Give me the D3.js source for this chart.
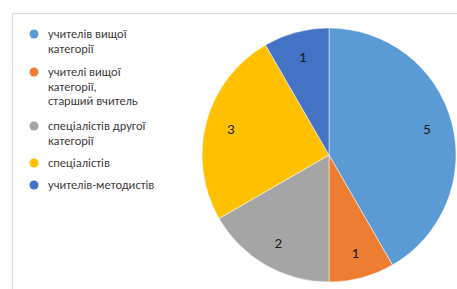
<!DOCTYPE html>
<html>
<head>
<meta charset="utf-8">
<script src="https://cdn.jsdelivr.net/npm/d3@7"></script>
<style>
  body { margin: 0; background: #fff; }
  svg { display: block; font-family: Calibri, Carlito, "Liberation Sans", "Open Sans", sans-serif; }
</style>
</head>
<body>
<script>
var categories = [
  ["учителів вищої", "категорії"],
  ["учителі вищої", "категорії,", "старший вчитель"],
  ["спеціалістів другої", "категорії"],
  ["спеціалістів"],
  ["учителів-методистів"]
];
var values = [5, 1, 2, 3, 1];
var colors = ["#5b9bd5", "#ed7d31", "#a5a5a5", "#ffc000", "#4472c4"];

var width = 457, height = 289,
    cx = 329, cy = 155, radius = 127;

var svg = d3.select("body").append("svg")
    .attr("width", width)
    .attr("height", height);

// chart area frame (only top and left edges are visible in the crop)
svg.append("rect")
    .attr("x", 12.5).attr("y", 13.5)
    .attr("width", width).attr("height", height)
    .style("fill", "none")
    .style("stroke", "#d9d9d9");

var pie = d3.pie().sort(null).value(function(d) { return d; });
var arc = d3.arc().innerRadius(0).outerRadius(radius);
var labelArc = d3.arc().innerRadius(radius * 0.8).outerRadius(radius * 0.8);

var g = svg.append("g")
    .attr("transform", "translate(" + cx + "," + cy + ")");

var slices = pie(values);

g.selectAll("path")
    .data(slices)
  .enter().append("path")
    .attr("d", arc)
    .style("fill", function(d, i) { return colors[i]; })
    .style("stroke", "#fff")
    .style("stroke-width", 0.5);

g.selectAll("text")
    .data(slices)
  .enter().append("text")
    .attr("transform", function(d) { return "translate(" + labelArc.centroid(d) + ")"; })
    .attr("text-anchor", "middle")
    .attr("dy", "0.35em")
    .style("font-size", "15px")
    .style("fill", "#1a1a1a")
    .text(function(d) { return d.data; });

// legend
var lineH = 14.5;
var legendY = [34, 72, 126, 163, 185];

var item = svg.selectAll(".legend")
    .data(categories)
  .enter().append("g")
    .attr("class", "legend")
    .attr("transform", function(d, i) { return "translate(34," + legendY[i] + ")"; });

item.append("circle")
    .attr("r", 4.5)
    .style("fill", function(d, i) { return colors[i]; });

// one text element per line
item.selectAll("text")
    .data(function(d) { return d; })
  .enter().append("text")
    .attr("x", 14)
    .attr("y", function(d, j) { return j * lineH; })
    .attr("dy", "0.35em")
    .style("font-size", "12.5px")
    .style("fill", "#404040")
    .text(function(d) { return d; });
</script>
</body>
</html>
